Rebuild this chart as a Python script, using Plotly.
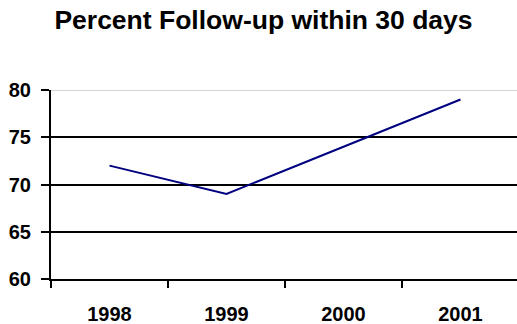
import plotly.graph_objects as go

# Yearly follow-up rate (%)
years = ["1998", "1999", "2000", "2001"]
follow_up_pct = [72, 69, 74, 79]
y_ticks = [60, 65, 70, 75, 80]
y_tick_labels = ["60", "65", "70", "75", "80"]

FONT = "Liberation Sans, Arial, sans-serif"

fig = go.Figure()
fig.add_trace(go.Scatter(
    x=years,
    y=follow_up_pct,
    mode="lines",
    line=dict(color="#000080", width=2),
    hoverinfo="x+y",
))

# top edge of the plot area drawn as a light rule
fig.add_shape(
    type="line", xref="paper", yref="y",
    x0=0, x1=1, y0=y_ticks[-1], y1=y_ticks[-1],
    line=dict(color="#c4c4c4", width=1.5), layer="above",
)

fig.update_layout(
    width=517, height=324,
    margin=dict(l=51, r=0, t=90, b=45),
    paper_bgcolor="white", plot_bgcolor="white",
    showlegend=False,
    title=dict(
        text="<b>Percent Follow-up within 30 days</b>",
        font=dict(family=FONT, size=26.5, color="black"),
        x=263.5 / 517, xanchor="center", xref="container",
        y=1 - 20 / 324, yanchor="middle", yref="container",
    ),
    font=dict(family=FONT, color="black"),
)

fig.update_xaxes(
    type="category",
    range=[-0.5, 3.483],
    showgrid=False,
    showline=True, linecolor="black", linewidth=2,
    ticks="outside", tickson="boundaries", ticklen=7, tickwidth=2, tickcolor="black",
    tickvals=years,
    ticktext=["<b>%s</b>" % y for y in years],
    tickfont=dict(family=FONT, size=20, color="black"),
    ticklabelstandoff=16,
    fixedrange=True,
)

fig.update_yaxes(
    range=[60, 80],
    tickvals=y_ticks,
    ticktext=["<b>%s</b>" % t for t in y_tick_labels],
    showgrid=True, gridcolor="black", gridwidth=2,
    zeroline=False,
    showline=True, linecolor="black", linewidth=2,
    ticks="outside", ticklen=8, tickwidth=2, tickcolor="black",
    tickfont=dict(family=FONT, size=20, color="black"),
    ticklabelstandoff=6,
    fixedrange=True,
)

fig.write_html("out.html")
